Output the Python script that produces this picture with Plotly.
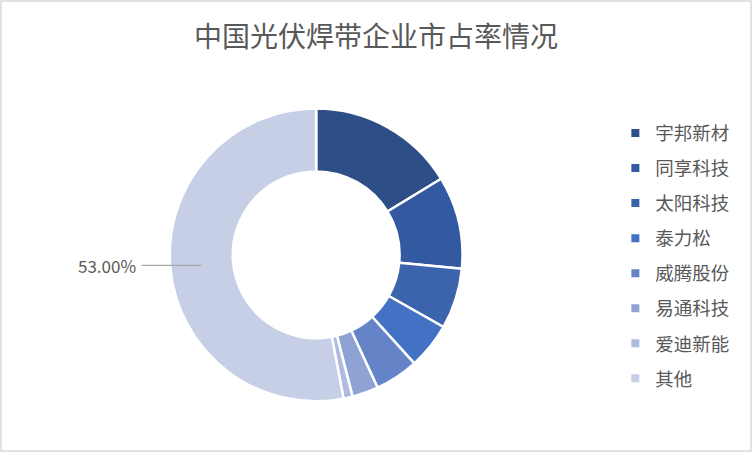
import plotly.graph_objects as go

# 市占率 (%)
companies = ['宇邦新材', '同享科技', '太阳科技', '泰力松', '威腾股份', '易通科技', '爱迪新能', '其他']
shares = [16.3, 10.2, 6.7, 5.1, 4.8, 2.9, 1.0, 53.0]
colors = ['#2E4E87', '#335AA0', '#3B64AD', '#4371C3', '#6584C8', '#8EA2D3', '#AEBAE0', '#C6CFE6']

W, H = 752, 452
cjk = 'Noto Sans CJK SC'
grey = '#595959'

fig = go.Figure()

fig.add_trace(go.Pie(
    labels=companies,
    values=shares,
    sort=False,
    direction='clockwise',
    rotation=0,
    hole=0.57,
    marker=dict(colors=colors, line=dict(color='white', width=2.5)),
    textinfo='none',
    showlegend=False,
    domain=dict(x=[(316 - 147) / W, (316 + 147) / W],
                y=[(H - 255 - 147) / H, (H - 255 + 147) / H]),
))

# legend entries (one group each so the spacing can be opened up)
for name, c in zip(companies, colors):
    fig.add_trace(go.Scatter(
        x=[None], y=[None], mode='markers', name=name, legendgroup=name,
        marker=dict(symbol='square', size=8, color=c),
    ))

# only the "其他" slice carries a data label in the original
label = f'{shares[-1]:.2f}%'
fig.add_annotation(text=label, x=106 / W, y=(H - 266) / H, xref='paper', yref='paper',
                   xanchor='center', yanchor='middle', showarrow=False,
                   font=dict(family=cjk, size=17, color=grey))
fig.add_shape(type='line', xref='paper', yref='paper',
              x0=141 / W, x1=201 / W, y0=(H - 265.5) / H, y1=(H - 265.5) / H,
              line=dict(color='#A6A6A6', width=1.3))

# chart area border
fig.add_shape(type='rect', xref='paper', yref='paper', x0=0, x1=1, y0=0, y1=1,
              line=dict(color='#D9D9D9', width=1.5))

fig.update_layout(
    width=W, height=H,
    margin=dict(l=1, r=1, t=1, b=1),
    paper_bgcolor='white', plot_bgcolor='white',
    title=dict(text='中国光伏焊带企业市占率情况', x=0.5, xanchor='center',
               y=(H - 37.5) / H, yanchor='middle',
               font=dict(family=cjk, size=28, color=grey)),
    xaxis=dict(visible=False), yaxis=dict(visible=False),
    legend=dict(x=616 / W, y=(H - 114) / H, xanchor='left', yanchor='top',
                font=dict(family=cjk, size=18.5, color=grey),
                tracegroupgap=8, itemclick=False, itemdoubleclick=False),
    font=dict(family=cjk, color=grey),
)

fig.write_html('out.html', config={'displayModeBar': False},
               post_script="document.body.style.margin='0';")
